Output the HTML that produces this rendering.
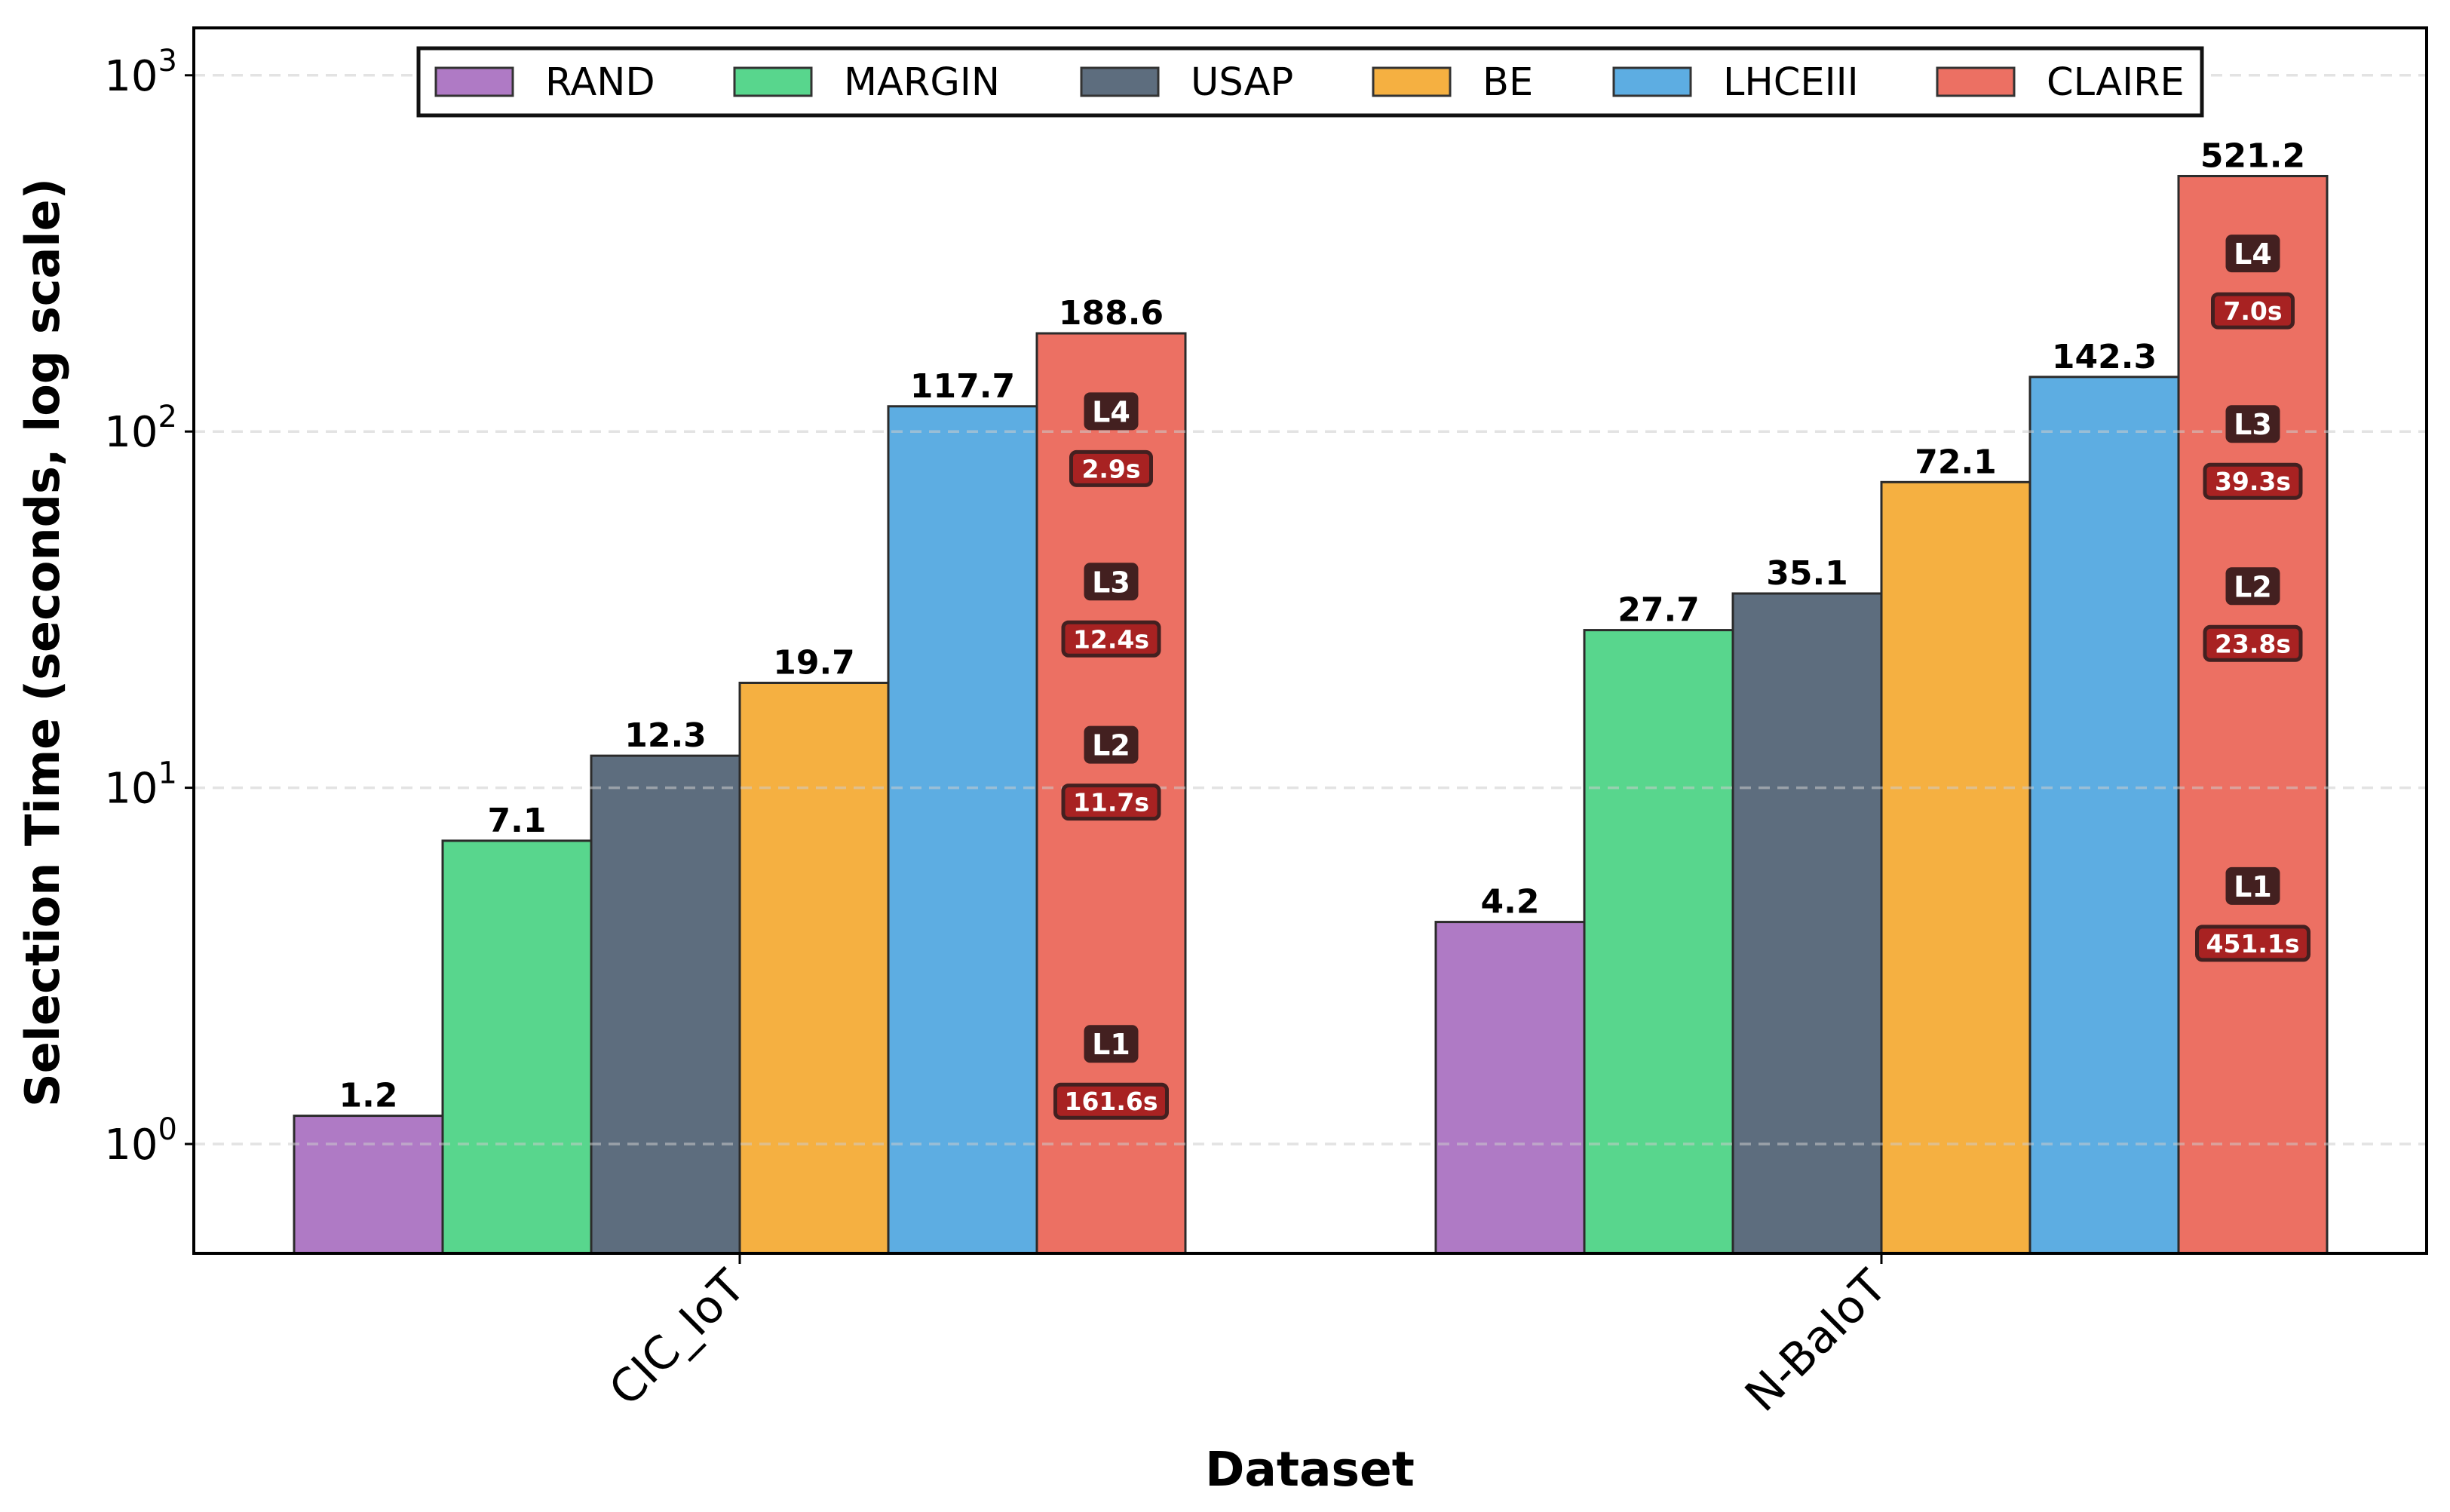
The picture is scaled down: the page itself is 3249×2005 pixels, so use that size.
<!DOCTYPE html>
<html><head><meta charset="utf-8"><style>
html,body{margin:0;padding:0;background:#fff;}
svg{display:block;font-family:"DejaVu Sans","Liberation Sans",sans-serif;}
</style></head><body>
<svg id="chart" width="3249" height="2005" viewBox="0 0 3249 2005" xmlns="http://www.w3.org/2000/svg">
<g id="bars"></g>
<g id="grid"></g>
<g id="labels"></g>
<g id="annots"></g>
<g id="axes"></g>
<g id="legend"></g>
</svg>
<script>
const categories = ["CIC_IoT", "N-BaIoT"];
const seriesNames = ["RAND", "MARGIN", "USAP", "BE", "LHCEIII", "CLAIRE"];
const seriesColors = ["#af7ac5", "#58d68d", "#5d6d7e", "#f5b041", "#5dade2", "#ec7063"];
const randValues = [1.2, 4.2];
const marginValues = [7.1, 27.7];
const usapValues = [12.3, 35.1];
const beValues = [19.7, 72.1];
const lhceiiiValues = [117.7, 142.3];
const claireValues = [188.6, 521.2];
const layerNames = ["L1", "L2", "L3", "L4"];
const cicLayerTimes = ["161.6s", "11.7s", "12.4s", "2.9s"];
const nbaLayerTimes = ["451.1s", "23.8s", "39.3s", "7.0s"];
const cicLayerAnchors = [1.91, 13.2, 37.9, 114];
const nbaLayerAnchors = [5.3, 36.8, 105, 316];
const yTicks = [0, 1, 2, 3];

const NS = "http://www.w3.org/2000/svg";
const L = 257, R = 3218, T = 37, B = 1662;
const y0 = 1517, dec = 472.4;
function y(v){ return y0 - Math.log10(v) * dec; }
const groupCenters = [981, 2495];
const bw = 197;
function x(ci, si){ return groupCenters[ci] + (si - 3) * bw; }
function el(tag, attrs, parent, text){
  const e = document.createElementNS(NS, tag);
  for (const k in attrs) e.setAttribute(k, attrs[k]);
  if (text !== undefined) e.textContent = text;
  parent.appendChild(e); return e;
}
const allSeries = [randValues, marginValues, usapValues, beValues, lhceiiiValues, claireValues];
const gb = document.getElementById("bars"), gl = document.getElementById("labels");
allSeries.forEach((vals, si) => {
  vals.forEach((v, ci) => {
    const r = el("rect", {x: x(ci, si), y: y(v), width: bw, height: B - y(v), fill: seriesColors[si], stroke: "#2b2b2b", "stroke-width": 3}, gb);
    
    
    const t = el("text", {x: x(ci, si) + bw/2, y: y(v) - 12, "text-anchor": "middle", "font-size": 44, "font-weight": "bold"}, gl, v.toFixed(1));
    
    
  });
});
const gg = document.getElementById("grid");
yTicks.forEach(p => {
  const ln = el("line", {x1: L, x2: R, y1: y(Math.pow(10, p)), y2: y(Math.pow(10, p)), stroke: "#cccccc", "stroke-opacity": 0.55, "stroke-width": 3.5, "stroke-dasharray": "15 10"}, gg);
  
  
});
const ga = document.getElementById("annots");
[[cicLayerAnchors, cicLayerTimes], [nbaLayerAnchors, nbaLayerTimes]].forEach((pair, ci) => {
  const cx = x(ci, 5) + bw/2;
  pair[0].forEach((a, li) => {
    const ly = y(a);
    const b1 = el("rect", {x: cx - 36, y: ly - 25, width: 72, height: 50, rx: 8, fill: "#432020"}, ga);
    
    
    const t1 = el("text", {x: cx, y: ly + 14, "text-anchor": "middle", "font-size": 38, "font-weight": "bold", fill: "#fff"}, ga, layerNames[li]);
    
    
    const txt = pair[1][li];
    const w = txt.length * 21 + 22;
    const ty = ly + 76;
    const b2 = el("rect", {x: cx - w/2, y: ty - 22, width: w, height: 44, rx: 7, fill: "#a82222", stroke: "#432020", "stroke-width": 5}, ga);
    
    
    const t2 = el("text", {x: cx, y: ty + 12, "text-anchor": "middle", "font-size": 33, "font-weight": "bold", fill: "#fff"}, ga, txt);
    
    
  });
});
const gx = document.getElementById("axes");
const frame = el("rect", {x: L, y: T, width: R - L, height: B - T, fill: "none", stroke: "#000", "stroke-width": 4}, gx);


yTicks.forEach(p => {
  const yy = y(Math.pow(10, p));
  const tk = el("line", {x1: L - 12, x2: L, y1: yy, y2: yy, stroke: "#000", "stroke-width": 3}, gx);
  
  
  const t = el("text", {x: L - 22, y: yy + 20, "text-anchor": "end", "font-size": 56}, gx);
  
  
  el("tspan", {}, t, "10");
  el("tspan", {dy: -26, "font-size": 40}, t, String(p));
});
categories.forEach((c, ci) => {
  const cx = groupCenters[ci];
  const tk = el("line", {x1: cx, x2: cx, y1: B, y2: B + 14, stroke: "#000", "stroke-width": 3}, gx);
  
  
  const t = el("text", {x: cx + 10, y: B + 48, "text-anchor": "end", "font-size": 60, transform: "rotate(-45 " + (cx + 10) + " " + (B + 48) + ")"}, gx, c);
  
  
});
const xt = el("text", {x: 1737, y: 1970, "text-anchor": "middle", "font-size": 63, "font-weight": "bold"}, gx, "Dataset");


const yt = el("text", {x: 0, y: 0, "text-anchor": "middle", "font-size": 62, "font-weight": "bold", transform: "translate(78 852) rotate(-90)"}, gx, "Selection Time (seconds, log scale)");


const glg = document.getElementById("legend");
const lb = el("rect", {x: 555, y: 64, width: 2365, height: 89, fill: "#fff", stroke: "#111", "stroke-width": 5}, glg);


const legendX = [578, 974, 1434, 1821, 2140, 2569];
seriesNames.forEach((n, si) => {
  const sw = el("rect", {x: legendX[si], y: 90, width: 102, height: 37, fill: seriesColors[si], stroke: "#333", "stroke-width": 3}, glg);
  
  
  const t = el("text", {x: legendX[si] + 145, y: 126, "font-size": 51}, glg, n);
  
  
});
</script>
</body></html>
